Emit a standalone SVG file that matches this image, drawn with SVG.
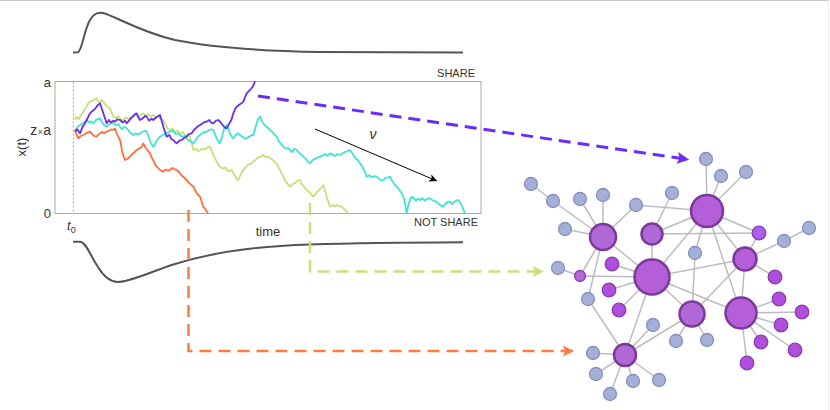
<svg xmlns="http://www.w3.org/2000/svg" width="830" height="410" viewBox="0 0 830 410">
<style>
  text { font-family: "Liberation Sans", Arial, sans-serif; fill: #333; }
  .walk { fill: none; stroke-width: 1.8; stroke-linejoin: round; vector-effect: non-scaling-stroke; }
  .edge { stroke: #bdbdbd; stroke-width: 1.5; }
  .g { fill: #a5b0d9; stroke: #8591bb; stroke-width: 1.3; }
  .big { fill: #b45ed8; stroke: #7b3a99; stroke-width: 2.5; }
  .sm { fill: #b04fdd; stroke: #8b3cae; stroke-width: 1.3; }
  .dash { fill: none; stroke-dasharray: 12 7; }
</style>
<defs>
  <marker id="mPur" viewBox="0 0 10 10" refX="9" refY="5" markerWidth="4" markerHeight="4" orient="auto" markerUnits="strokeWidth">
    <path d="M0,0 L10,5 L0,10 L2,5 z" fill="#6d2cf5"/>
  </marker>
  <marker id="mGrn" viewBox="0 0 10 10" refX="9" refY="5" markerWidth="4.5" markerHeight="4.5" orient="auto" markerUnits="strokeWidth">
    <path d="M0,0 L10,5 L0,10 L2,5 z" fill="#c6e27c"/>
  </marker>
  <marker id="mOrg" viewBox="0 0 10 10" refX="9" refY="5" markerWidth="4.5" markerHeight="4.5" orient="auto" markerUnits="strokeWidth">
    <path d="M0,0 L10,5 L0,10 L2,5 z" fill="#ff7b45"/>
  </marker>
  <marker id="mBlk" viewBox="0 0 10 10" refX="10" refY="5" markerWidth="10" markerHeight="8" orient="auto" markerUnits="strokeWidth">
    <path d="M0,0 L10,5 L0,10 L3,5 z" fill="#000"/>
  </marker>
  <clipPath id="box"><rect x="55" y="81.5" width="426" height="132"/></clipPath>
</defs>
<rect width="830" height="410" fill="#fff"/>
<line x1="0" y1="0.5" x2="829" y2="0.5" stroke="#c8c8c8" stroke-width="1"/>
<line x1="828.5" y1="0" x2="828.5" y2="410" stroke="#eeeeee" stroke-width="1"/>

<!-- top curve -->
<path d="M73,52.5 L78,52.3 C82,51 84,30 90,20 C94,13 98,12 103,13 C115,16 140,32 175,40 C215,48 260,51 320,52 L463,52.5" fill="none" stroke="#555" stroke-width="2"/>
<!-- bottom curve -->
<path d="M73,241.7 L80,241.7 C86,242 90,255 98,267 C104,277 110,282 118,282 C130,282 150,272 175,264 C210,253 260,246 310,244.5 C360,243 420,242.5 463,242.3" fill="none" stroke="#555" stroke-width="2"/>

<!-- plot box -->
<g id="plot">
<rect x="55" y="81.5" width="426" height="132" fill="none" stroke="#aaa" stroke-width="1"/>
<line x1="73.3" y1="81.5" x2="73.3" y2="213.5" stroke="#888" stroke-width="0.8" stroke-dasharray="2 2"/>
<g clip-path="url(#box)">
<g transform="translate(0,70) scale(0.3333333)">
<path class="walk" stroke="#c3e07a" d="M225,150 L230,140 L236,148 L240,140 L248,128 L254,118 L260,110 L264,100 L270,95 L278,92 L285,88 L290,85 L295,95 L300,100 L305,90 L310,95 L316,104 L322,110 L330,115 L335,128 L340,140 L348,145 L355,138 L362,148 L370,150 L378,142 L386,148 L393,140 L400,140 L408,134 L415,140 L422,135 L430,130 L438,138 L445,132 L452,140 L460,135 L468,145 L475,140 L482,148 L490,150 L495,162 L500,170 L505,178 L510,180 L518,176 L525,186 L532,182 L540,190 L548,186 L555,196 L562,192 L570,200 L574,215 L578,230 L580,240 L588,236 L595,244 L600,240 L608,236 L615,238 L622,232 L630,230 L636,245 L642,258 L645,265 L652,278 L656,286 L660,290 L668,296 L675,292 L680,300 L688,304 L695,300 L700,310 L706,318 L710,328 L715,330 L720,318 L725,308 L730,300 L738,290 L745,284 L752,282 L760,275 L768,268 L775,262 L782,260 L790,255 L798,262 L805,260 L810,265 L818,270 L825,276 L830,280 L836,292 L842,305 L850,320 L855,332 L862,340 L870,350 L878,342 L885,340 L892,332 L900,330 L906,344 L912,350 L920,360 L928,366 L934,374 L940,380 L948,370 L955,362 L962,355 L970,345 L974,360 L978,372 L980,380 L985,395 L990,410 L998,405 L1004,410 L1010,405 L1018,410 L1024,408 L1030,415 L1038,422 L1045,432"/>
<path class="walk" stroke="#3ee6d2" d="M225,180 L232,172 L240,165 L248,160 L255,156 L260,150 L268,158 L274,154 L280,160 L286,152 L292,148 L300,145 L306,158 L313,165 L320,170 L327,164 L334,158 L340,160 L348,166 L355,162 L360,170 L366,178 L373,170 L380,175 L386,183 L393,190 L400,195 L407,190 L414,194 L420,190 L427,186 L434,182 L440,185 L446,200 L452,218 L460,230 L466,220 L473,208 L480,200 L488,195 L494,192 L500,190 L507,186 L514,182 L520,185 L527,192 L534,190 L540,195 L547,200 L554,198 L560,205 L566,212 L574,216 L580,220 L587,210 L594,200 L600,195 L607,190 L614,186 L620,185 L627,180 L634,178 L640,180 L646,196 L652,210 L660,220 L666,200 L672,178 L680,165 L686,180 L692,196 L700,205 L706,196 L713,190 L720,195 L727,200 L734,206 L740,205 L747,200 L754,196 L760,195 L765,178 L770,160 L775,145 L780,140 L785,152 L790,160 L797,168 L804,174 L810,180 L817,186 L824,194 L830,200 L836,212 L843,222 L850,230 L857,236 L864,234 L870,240 L876,246 L883,236 L890,240 L897,248 L904,254 L910,260 L917,266 L924,276 L930,280 L938,270 L946,266 L953,262 L960,260 L968,256 L976,252 L983,258 L990,250 L998,254 L1006,258 L1013,252 L1020,255 L1028,250 L1035,246 L1042,244 L1050,240 L1058,252 L1066,264 L1073,270 L1080,280 L1087,290 L1094,305 L1100,320 L1108,316 L1116,322 L1124,318 L1130,320 L1137,326 L1144,332 L1150,330 L1157,324 L1164,322 L1170,320 L1176,332 L1183,342 L1190,350 L1197,358 L1204,368 L1210,380 L1215,400 L1220,430 L1225,405 L1230,390 L1235,380 L1242,385 L1248,392 L1254,386 L1260,390 L1267,384 L1274,392 L1282,386 L1290,385 L1297,390 L1304,394 L1310,395 L1316,402 L1322,406 L1330,410 L1336,402 L1342,396 L1350,395 L1356,402 L1362,396 L1368,392 L1375,390 L1382,400 L1388,412 L1395,432"/>
<path class="walk" stroke="#ff6e3a" d="M225,180 L230,195 L235,205 L242,198 L250,195 L258,190 L264,188 L270,185 L276,192 L283,198 L290,200 L295,194 L300,190 L307,186 L313,190 L320,185 L327,182 L334,178 L340,180 L345,175 L350,190 L355,200 L360,210 L364,230 L368,250 L372,262 L375,270 L382,266 L390,260 L397,252 L404,246 L410,240 L417,236 L424,232 L430,220 L436,232 L442,240 L450,250 L455,262 L460,272 L465,282 L470,290 L476,296 L483,302 L490,305 L497,298 L504,302 L510,300 L517,294 L524,298 L530,300 L537,306 L544,316 L552,322 L560,330 L566,338 L573,344 L580,350 L586,362 L592,372 L600,380 L604,392 L607,402 L610,410 L616,418 L620,424 L625,432"/>
<path class="walk" stroke="#6a2cf5" d="M225,185 L232,178 L240,190 L248,170 L255,160 L260,150 L266,138 L270,130 L278,122 L284,118 L290,110 L295,104 L300,100 L305,115 L310,130 L315,145 L320,160 L327,150 L333,158 L340,152 L345,155 L352,148 L360,150 L368,158 L375,152 L380,160 L390,148 L398,140 L405,132 L410,130 L415,142 L420,150 L428,145 L435,138 L440,140 L447,152 L455,146 L460,150 L468,142 L475,138 L480,135 L485,152 L490,170 L495,185 L500,200 L508,195 L515,208 L520,210 L525,216 L530,220 L538,212 L545,210 L552,204 L560,200 L567,192 L575,190 L582,180 L590,172 L600,165 L608,160 L614,156 L620,155 L628,150 L634,158 L640,160 L648,152 L655,150 L660,155 L668,165 L674,172 L680,175 L688,160 L694,150 L700,130 L705,118 L710,110 L718,104 L724,100 L730,95 L735,82 L740,70 L745,65 L752,58 L758,50 L762,42 L767,30"/>
</g>
</g>
<text x="51" y="87" font-size="13" text-anchor="end">a</text>
<text x="51" y="134.5" font-size="14" text-anchor="end">z<tspan font-size="8" dx="1" dy="-1">x</tspan><tspan dx="1" dy="1">a</tspan></text>
<text x="51" y="218" font-size="13" text-anchor="end">0</text>
<text transform="translate(26,147) rotate(-90)" font-size="13" text-anchor="middle">x(t)</text>
<text x="67" y="230" font-size="13" font-family="Liberation Serif, serif" font-style="italic">t<tspan font-size="9" font-style="normal" font-family="Liberation Sans, sans-serif" dy="3">0</tspan></text>
<text x="475" y="77" font-size="11" text-anchor="end">SHARE</text>
<text x="478" y="226" font-size="11" text-anchor="end">NOT SHARE</text>
<text x="268" y="236" font-size="13" text-anchor="middle">time</text>
<line x1="315" y1="129" x2="437" y2="181" stroke="#000" stroke-width="1" marker-end="url(#mBlk)"/>
<text x="373" y="139" font-size="14" font-family="Liberation Serif, serif" font-style="italic" text-anchor="middle">ν</text>
</g>

<!-- connectors -->
<g id="connectors">
<path class="dash" stroke="#6d2cf5" stroke-width="3" d="M258,96 L688,159.5" marker-end="url(#mPur)"/>
<path class="dash" stroke="#c6e27c" stroke-width="2.5" d="M310,203 L310,271.5 L543,271.5" marker-end="url(#mGrn)"/>
<path class="dash" stroke="#ff7b45" stroke-width="2.5" d="M188.5,210 L188.5,351 L573,351" marker-end="url(#mOrg)"/>
</g>

<!-- network -->
<g id="network-edges">
<line class="edge" x1="706" y1="159" x2="707" y2="211"/>
<line class="edge" x1="721" y1="176" x2="707" y2="211"/>
<line class="edge" x1="746" y1="172" x2="707" y2="211"/>
<line class="edge" x1="707" y1="211" x2="652" y2="234"/>
<line class="edge" x1="636" y1="205" x2="707" y2="211"/>
<line class="edge" x1="672" y1="193" x2="652" y2="234"/>
<line class="edge" x1="707" y1="211" x2="759" y2="233"/>
<line class="edge" x1="652" y1="234" x2="759" y2="233"/>
<line class="edge" x1="707" y1="211" x2="652" y2="277"/>
<line class="edge" x1="695" y1="253" x2="707" y2="211"/>
<line class="edge" x1="707" y1="211" x2="741" y2="313"/>
<line class="edge" x1="707" y1="211" x2="745" y2="259"/>
<line class="edge" x1="745" y1="259" x2="759" y2="233"/>
<line class="edge" x1="745" y1="259" x2="784" y2="241"/>
<line class="edge" x1="784" y1="241" x2="809" y2="228"/>
<line class="edge" x1="745" y1="259" x2="775" y2="277"/>
<line class="edge" x1="652" y1="277" x2="745" y2="259"/>
<line class="edge" x1="745" y1="259" x2="692" y2="314"/>
<line class="edge" x1="745" y1="259" x2="741" y2="313"/>
<line class="edge" x1="695" y1="253" x2="692" y2="314"/>
<line class="edge" x1="652" y1="277" x2="741" y2="313"/>
<line class="edge" x1="652" y1="277" x2="692" y2="314"/>
<line class="edge" x1="652" y1="234" x2="652" y2="277"/>
<line class="edge" x1="603" y1="237" x2="652" y2="277"/>
<line class="edge" x1="652" y1="277" x2="612" y2="264"/>
<line class="edge" x1="652" y1="277" x2="609" y2="290"/>
<line class="edge" x1="652" y1="277" x2="619" y2="310"/>
<line class="edge" x1="580" y1="276" x2="652" y2="277"/>
<line class="edge" x1="652" y1="277" x2="625" y2="355"/>
<line class="edge" x1="531" y1="184" x2="553" y2="201"/>
<line class="edge" x1="553" y1="201" x2="603" y2="237"/>
<line class="edge" x1="603" y1="237" x2="580" y2="199"/>
<line class="edge" x1="603" y1="237" x2="603" y2="195"/>
<line class="edge" x1="603" y1="237" x2="636" y2="205"/>
<line class="edge" x1="603" y1="237" x2="565" y2="229"/>
<line class="edge" x1="603" y1="237" x2="580" y2="276"/>
<line class="edge" x1="603" y1="237" x2="588" y2="299"/>
<line class="edge" x1="588" y1="299" x2="625" y2="355"/>
<line class="edge" x1="558" y1="268" x2="580" y2="276"/>
<line class="edge" x1="625" y1="355" x2="653" y2="325"/>
<line class="edge" x1="625" y1="355" x2="692" y2="314"/>
<line class="edge" x1="625" y1="355" x2="593" y2="353"/>
<line class="edge" x1="625" y1="355" x2="596" y2="374"/>
<line class="edge" x1="625" y1="355" x2="633" y2="381"/>
<line class="edge" x1="625" y1="355" x2="659" y2="380"/>
<line class="edge" x1="625" y1="355" x2="610" y2="394"/>
<line class="edge" x1="692" y1="314" x2="676" y2="341"/>
<line class="edge" x1="692" y1="314" x2="707" y2="340"/>
<line class="edge" x1="741" y1="313" x2="779" y2="299"/>
<line class="edge" x1="741" y1="313" x2="802" y2="312"/>
<line class="edge" x1="741" y1="313" x2="781" y2="325"/>
<line class="edge" x1="741" y1="313" x2="761" y2="342"/>
<line class="edge" x1="741" y1="313" x2="795" y2="350"/>
<line class="edge" x1="741" y1="313" x2="747" y2="363"/>
</g>

<g id="n1"><circle class="g" cx="706" cy="159" r="6.5"/></g>
<g id="n2"><circle class="g" cx="721" cy="176" r="6.5"/></g>
<g id="n3"><circle class="g" cx="746" cy="172" r="6.5"/></g>
<g id="n4"><circle class="g" cx="531" cy="184" r="6.5"/></g>
<g id="n5"><circle class="g" cx="553" cy="201" r="6.5"/></g>
<g id="n6"><circle class="g" cx="580" cy="199" r="6.5"/></g>
<g id="n7"><circle class="g" cx="603" cy="195" r="6.5"/></g>
<g id="n8"><circle class="g" cx="672" cy="193" r="6.5"/></g>
<g id="n9"><circle class="g" cx="636" cy="205" r="6.5"/></g>
<g id="n10"><circle class="g" cx="565" cy="229" r="6.5"/></g>
<g id="n11"><circle class="g" cx="809" cy="228" r="6.5"/></g>
<g id="n12"><circle class="g" cx="784" cy="241" r="6.5"/></g>
<g id="n13"><circle class="g" cx="695" cy="253" r="6.5"/></g>
<g id="n14"><circle class="g" cx="558" cy="268" r="6.5"/></g>
<g id="n15"><circle class="g" cx="588" cy="299" r="6.5"/></g>
<g id="n16"><circle class="g" cx="653" cy="325" r="6.5"/></g>
<g id="n17"><circle class="g" cx="676" cy="341" r="6.5"/></g>
<g id="n18"><circle class="g" cx="707" cy="340" r="6.5"/></g>
<g id="n19"><circle class="g" cx="593" cy="353" r="6.5"/></g>
<g id="n20"><circle class="g" cx="596" cy="374" r="6.5"/></g>
<g id="n21"><circle class="g" cx="633" cy="381" r="6.5"/></g>
<g id="n22"><circle class="g" cx="659" cy="380" r="6.5"/></g>
<g id="n23"><circle class="g" cx="610" cy="394" r="6.5"/></g>

<g id="hubA"><circle class="big" cx="707" cy="211" r="16"/></g>
<g id="hubB"><circle class="big" cx="603" cy="237" r="13" style="fill:#b068d6"/></g>
<g id="hubC"><circle class="big" cx="652" cy="234" r="10.5" style="fill:#b068d6"/></g>
<g id="hubD"><circle class="big" cx="652" cy="277" r="17.5"/></g>
<g id="hubE"><circle class="big" cx="745" cy="259" r="11.5"/></g>
<g id="hubF"><circle class="big" cx="692" cy="314" r="12.5" style="fill:#b068d6"/></g>
<g id="hubG"><circle class="big" cx="741" cy="313" r="15.5"/></g>
<g id="hubH"><circle class="big" cx="625" cy="355" r="11" style="fill:#b068d6"/></g>

<g id="s1"><circle class="sm" cx="759" cy="233" r="6.8" style="fill:#a95ef0"/></g>
<g id="s2"><circle class="sm" cx="612" cy="264" r="6.8"/></g>
<g id="s3"><circle class="sm" cx="580" cy="276" r="5.5" style="fill:#b268d8"/></g>
<g id="s4"><circle class="sm" cx="609" cy="290" r="6.8"/></g>
<g id="s5"><circle class="sm" cx="619" cy="310" r="6.8"/></g>
<g id="s6"><circle class="sm" cx="775" cy="277" r="6.8"/></g>
<g id="s7"><circle class="sm" cx="779" cy="299" r="6.8"/></g>
<g id="s8"><circle class="sm" cx="802" cy="312" r="6.8"/></g>
<g id="s9"><circle class="sm" cx="781" cy="325" r="6.8"/></g>
<g id="s10"><circle class="sm" cx="761" cy="342" r="6.8"/></g>
<g id="s11"><circle class="sm" cx="795" cy="350" r="6.8"/></g>
<g id="s12"><circle class="sm" cx="747" cy="363" r="6.8"/></g>
</svg>
